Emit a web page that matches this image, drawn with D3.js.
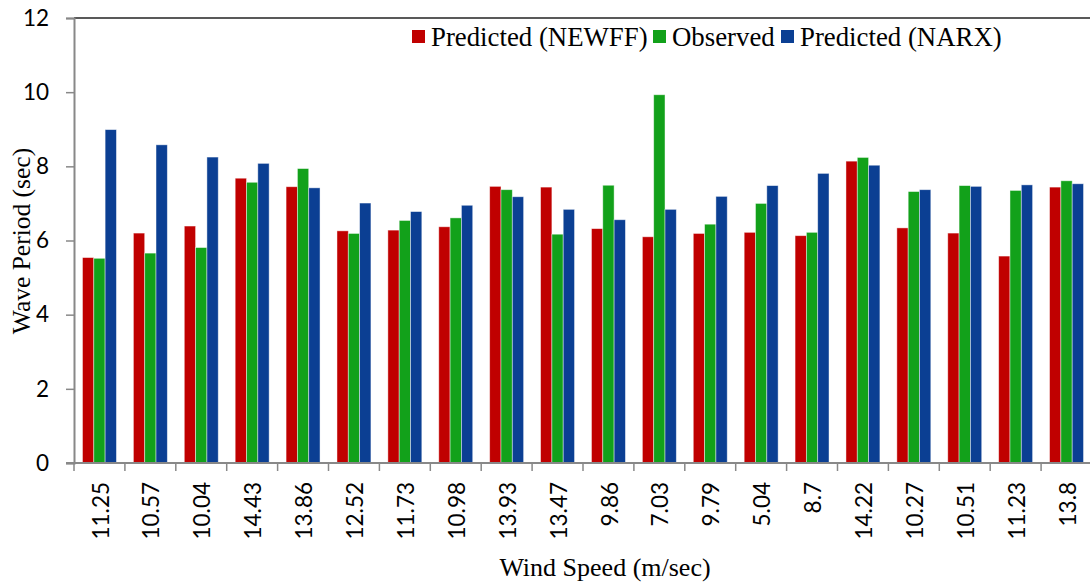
<!DOCTYPE html>
<html>
<head>
<meta charset="utf-8">
<script src="https://cdn.jsdelivr.net/npm/d3@7"></script>
<style>
  html, body { margin: 0; padding: 0; background: #fff; }
  svg { display: block; }
</style>
</head>
<body>
<svg id="chart" width="1090" height="586"></svg>
<script>
const categories = ["11.25","10.57","10.04","14.43","13.86","12.52","11.73","10.98","13.93","13.47","9.86","7.03","9.79","5.04","8.7","14.22","10.27","10.51","11.23","13.8"];
const newff    = [5.54,6.20,6.39,7.68,7.45,6.26,6.28,6.37,7.46,7.44,6.32,6.10,6.19,6.22,6.13,8.14,6.34,6.20,5.58,7.44];
const observed = [5.52,5.66,5.81,7.57,7.94,6.19,6.54,6.61,7.37,6.17,7.49,9.93,6.44,7.00,6.22,8.24,7.32,7.48,7.35,7.61];
const narx     = [8.99,8.58,8.25,8.08,7.42,7.01,6.78,6.95,7.18,6.84,6.56,6.84,7.19,7.48,7.81,8.03,7.37,7.46,7.50,7.53];
const seriesNames = ["Predicted (NEWFF)","Observed","Predicted (NARX)"];
const seriesColors = ["#C00000","#12A11A","#0B3F93"];
const yTicks = [0,2,4,6,8,10,12];

(function () {
const series = [newff, observed, narx];
const svg = d3.select("#chart");
const mLeft = 74, mRight = 1092, mTop = 18, mBottom = 463;

const x = d3.scaleBand().domain(categories).range([mLeft, mRight]).paddingInner(0.333).paddingOuter(0.1667);
const xs = d3.scaleBand().domain(d3.range(series.length)).range([0, x.bandwidth()]);
const y = d3.scaleLinear().domain([0, 12]).range([mBottom, mTop]);

// bars
series.forEach((vals, si) => {
  svg.append("g").selectAll("rect").data(vals).join("rect")
    .attr("x", (d, i) => x(categories[i]) + xs(si))
    .attr("y", d => y(d))
    .attr("width", xs.bandwidth())
    .attr("height", d => y(0) - y(d))
    .attr("fill", seriesColors[si])
    .attr("stroke", "rgba(255,255,255,0.55)")
    .attr("stroke-width", 0.8);
});

// top border
svg.append("line").attr("x1", mLeft).attr("x2", 1090).attr("y1", mTop).attr("y2", mTop)
  .attr("stroke", "#222").attr("stroke-width", 1.5);

// y axis
const yAxis = d3.axisLeft(y).tickValues(yTicks).tickSize(8).tickPadding(17).tickFormat(d3.format("d"));
const gy = svg.append("g").attr("transform", `translate(${mLeft},0)`).call(yAxis);
gy.select(".domain").attr("stroke", "#888").attr("stroke-width", 2);
gy.selectAll(".tick line").attr("stroke", "#888").attr("stroke-width", 1.5);
gy.selectAll(".tick text").attr("font-family", "Lato, 'Open Sans', sans-serif").attr("font-size", 22.5).attr("fill", "#000");

// x axis baseline
svg.append("line").attr("x1", mLeft - 8).attr("x2", 1090).attr("y1", mBottom).attr("y2", mBottom)
  .attr("stroke", "#888").attr("stroke-width", 2);
// x ticks at category boundaries
const bounds = categories.map(c => x(c) - x.step() * x.paddingInner() / 2);
svg.append("g").selectAll("line").data(bounds).join("line")
  .attr("x1", d => d).attr("x2", d => d).attr("y1", mBottom).attr("y2", mBottom + 8)
  .attr("stroke", "#888").attr("stroke-width", 1.5);

// x labels
svg.append("g").selectAll("text").data(categories).join("text")
  .attr("transform", d => `translate(${x(d) + x.bandwidth() / 2 + 1},482) rotate(-90)`)
  .attr("text-anchor", "end")
  .attr("dy", "0.36em")
  .attr("font-family", "Lato, 'Open Sans', sans-serif")
  .attr("font-size", 22.5)
  .attr("fill", "#000")
  .text(d => d);

// axis titles
svg.append("text").attr("x", 605).attr("y", 576).attr("text-anchor", "middle")
  .attr("font-family", "'Liberation Serif', 'Times New Roman', serif").attr("font-size", 26)
  .attr("fill", "#000").text("Wind Speed (m/sec)");
svg.append("text").attr("transform", "translate(30,241) rotate(-90)").attr("text-anchor", "middle")
  .attr("font-family", "'Liberation Serif', 'Times New Roman', serif").attr("font-size", 25.5)
  .attr("fill", "#000").text("Wave Period (sec)");

// legend
const legendX = [412, 653, 781];
const lg = svg.append("g");
seriesNames.forEach((n, i) => {
  lg.append("rect").attr("x", legendX[i]).attr("y", 30).attr("width", 13).attr("height", 13).attr("fill", seriesColors[i]);
  lg.append("text").attr("x", legendX[i] + 19).attr("y", 46)
    .attr("font-family", "'Liberation Serif', 'Times New Roman', serif").attr("font-size", 26.8)
    .attr("fill", "#000").text(n);
});
})();
</script>
</body>
</html>
